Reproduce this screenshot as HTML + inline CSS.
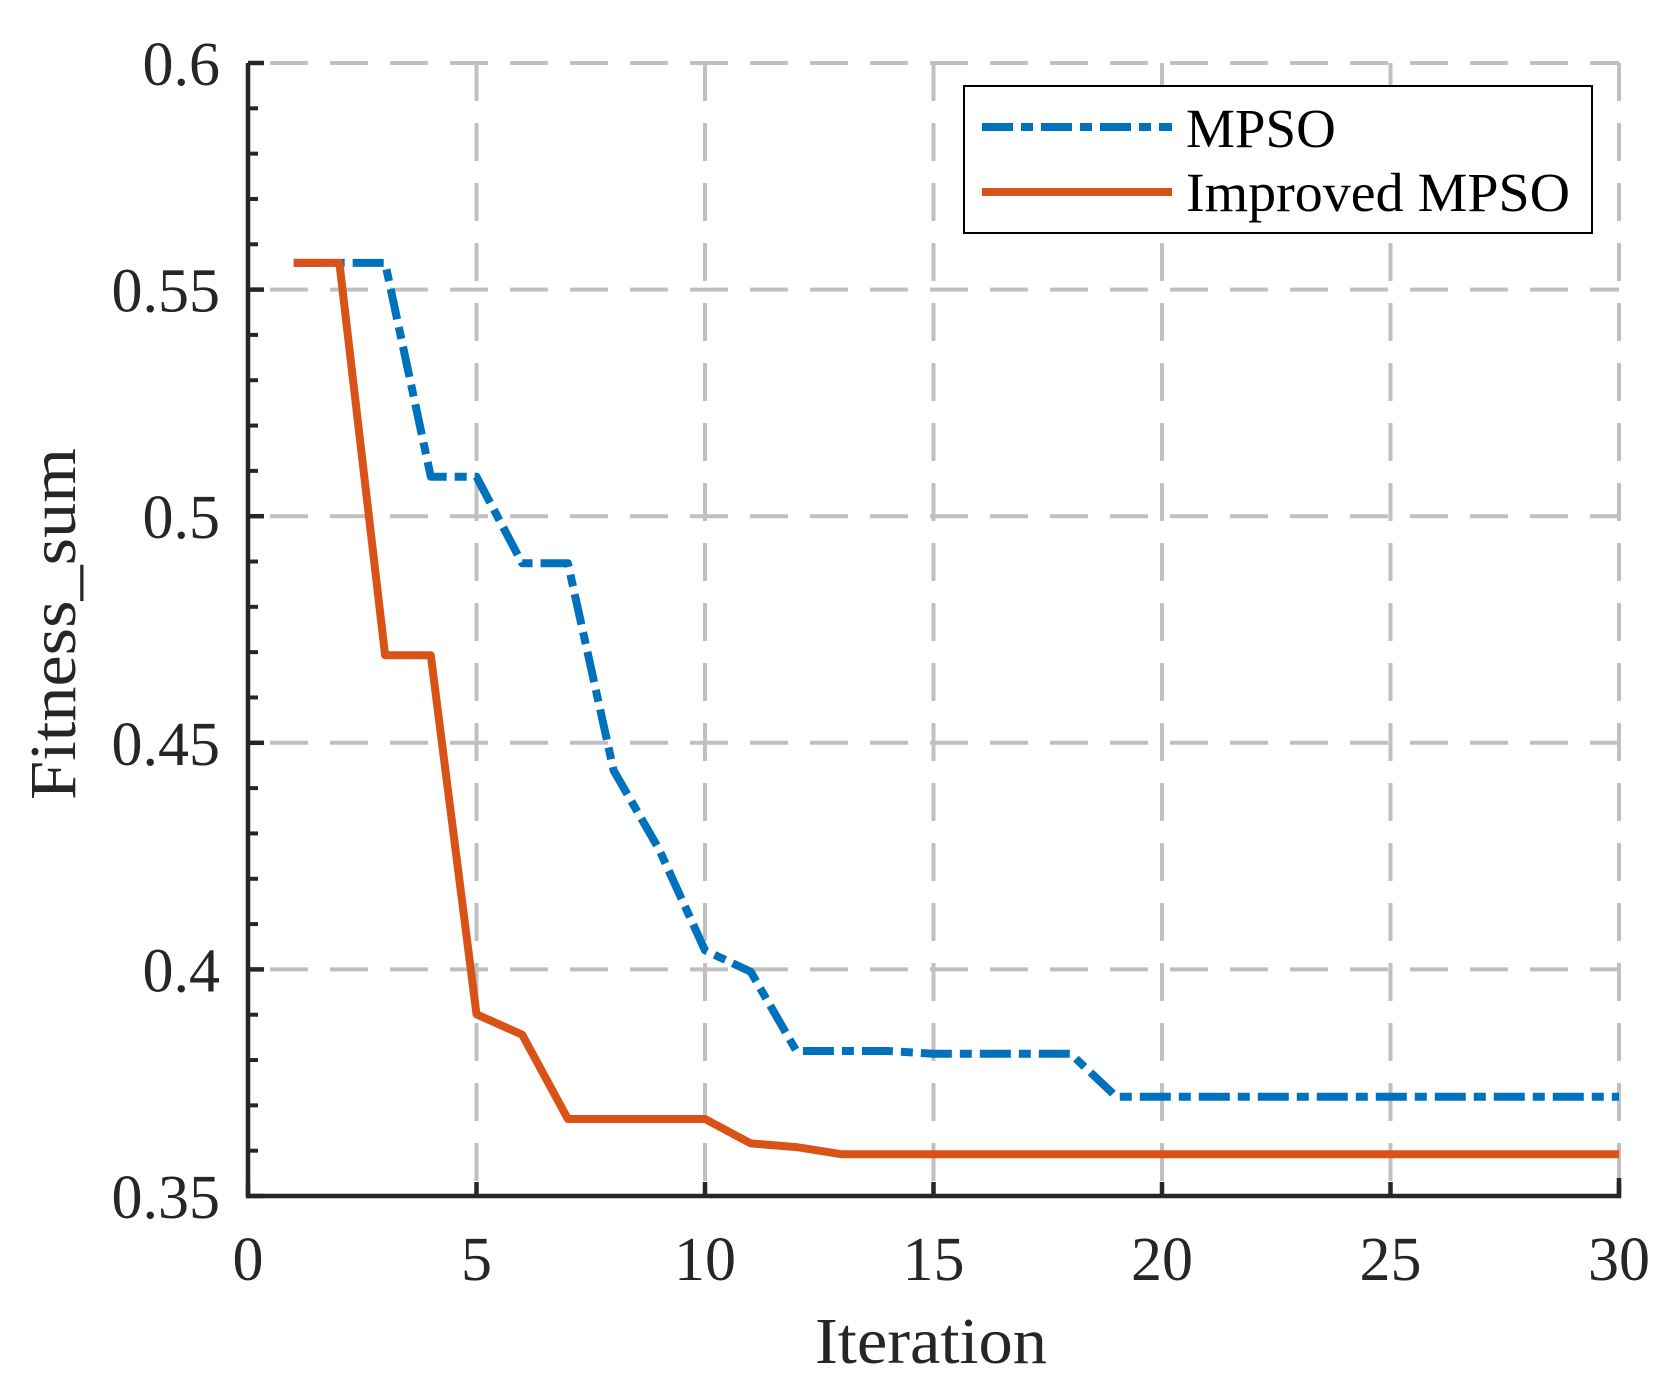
<!DOCTYPE html>
<html><head><meta charset="utf-8"><style>
html,body{margin:0;padding:0;background:#fff;}
svg{display:block;font-family:"Liberation Serif",serif;}
</style></head><body>
<svg id="chart" width="1672" height="1392" viewBox="0 0 1672 1392" xmlns="http://www.w3.org/2000/svg">
<rect width="1672" height="1392" fill="#fff"/>
<g id="grid"></g>
<g id="series"></g>
<g id="axes"></g>
<text x="0" y="0" transform="translate(75,624) rotate(-90)" text-anchor="middle" font-size="66" fill="#262626" textLength="352" lengthAdjust="spacingAndGlyphs">Fitness_sum</text>
<text x="931" y="1363" text-anchor="middle" font-size="66" fill="#262626" textLength="232" lengthAdjust="spacingAndGlyphs">Iteration</text>
<g>
<rect x="964" y="86" width="628" height="147" fill="#fff" stroke="#000" stroke-width="2"/>
<line x1="982" y1="127" x2="1172" y2="127" stroke="#0072BD" stroke-width="8" stroke-dasharray="31 8 12 8"/>
<text x="1186" y="147" font-size="55" fill="#000">MPSO</text>
<line x1="982" y1="192" x2="1172" y2="192" stroke="#D95319" stroke-width="8"/>
<text x="1186" y="211" font-size="55" fill="#000" textLength="384" lengthAdjust="spacingAndGlyphs">Improved MPSO</text>
</g>
</svg>
<script>
const iterations = [1,2,3,4,5,6,7,8,9,10,11,12,13,14,15,16,17,18,19,20,21,22,23,24,25,26,27,28,29,30];
const mpso = [0.5559,0.5559,0.5559,0.5087,0.5087,0.4896,0.4896,0.4439,0.4264,0.4042,0.3995,0.382,0.382,0.382,0.3814,0.3814,0.3814,0.3814,0.3719,0.3719,0.3719,0.3719,0.3719,0.3719,0.3719,0.3719,0.3719,0.3719,0.3719,0.3719];
const improved = [0.5559,0.5559,0.4693,0.4693,0.3901,0.3856,0.367,0.367,0.367,0.367,0.3616,0.3608,0.3592,0.3592,0.3592,0.3592,0.3592,0.3592,0.3592,0.3592,0.3592,0.3592,0.3592,0.3592,0.3592,0.3592,0.3592,0.3592,0.3592,0.3592];
const xTicks = [0,5,10,15,20,25,30];
const yTicks = [0.35,0.4,0.45,0.5,0.55,0.6];
const yTickLabels = ["0.35","0.4","0.45","0.5","0.55","0.6"];
const yMinor = [0.36,0.37,0.38,0.39,0.41,0.42,0.43,0.44,0.46,0.47,0.48,0.49,0.51,0.52,0.53,0.54,0.56,0.57,0.58,0.59];

const L=248,R=1619,T=63,B=1196;
const X0=0,X1=30,Y0=0.35,Y1=0.6;
function sx(v){return L+(v-X0)/(X1-X0)*(R-L);}
function sy(v){return B-(v-Y0)/(Y1-Y0)*(B-T);}
const NS="http://www.w3.org/2000/svg";
function mk(tag,attrs,parent){const e=document.createElementNS(NS,tag);for(const k in attrs)e.setAttribute(k,attrs[k]);parent.appendChild(e);return e;}
const grid=document.getElementById('grid'),axes=document.getElementById('axes'),series=document.getElementById('series');

xTicks.forEach(t=>{
  if(t===X0)return;
  const g=mk('line',{x1:sx(t),x2:sx(t),y1:T,y2:B,stroke:'#c0c0c0','stroke-width':4,'stroke-dasharray':'38 22'},grid);
  
  
});
yTicks.forEach(t=>{
  if(t===Y0)return;
  const g=mk('line',{x1:L,x2:R,y1:sy(t),y2:sy(t),stroke:'#c0c0c0','stroke-width':4,'stroke-dasharray':'38 22','stroke-dashoffset':'-22'},grid);
  
  
});

function linePath(xs,ys){return xs.map((x,i)=>(i?'L':'M')+sx(x).toFixed(1)+','+sy(ys[i]).toFixed(1)).join(' ');}
const p1=mk('path',{d:linePath(iterations,mpso),fill:'none',stroke:'#0072BD','stroke-width':8,'stroke-dasharray':'31 8 12 8','stroke-linejoin':'round'},series);


const p2=mk('path',{d:linePath(iterations,improved),fill:'none',stroke:'#D95319','stroke-width':8,'stroke-linejoin':'round'},series);



const ax=mk('path',{d:`M${L},${T} L${L},${B} L${R},${B} L${R},${B-18}`,fill:'none',stroke:'#262626','stroke-width':4.5},axes);



xTicks.forEach(t=>{
  const tk=mk('line',{x1:sx(t),x2:sx(t),y1:B,y2:B-14,stroke:'#262626','stroke-width':4.5},axes);
  
  
  const tx=mk('text',{x:sx(t),y:1280,'text-anchor':'middle','font-size':62,fill:'#262626'},axes);
  tx.textContent=String(t);
  
  
});
yTicks.forEach((t,i)=>{
  const tk=mk('line',{x1:L,x2:L+16,y1:sy(t),y2:sy(t),stroke:'#262626','stroke-width':4.5},axes);
  
  
  const tx=mk('text',{x:220,y:sy(t)+22,'text-anchor':'end','font-size':62,fill:'#262626'},axes);
  tx.textContent=yTickLabels[i];
  
  
});
yMinor.forEach(t=>{
  const tk=mk('line',{x1:L,x2:L+10,y1:sy(t),y2:sy(t),stroke:'#262626','stroke-width':4},axes);
  
  
});
</script>
</body></html>
